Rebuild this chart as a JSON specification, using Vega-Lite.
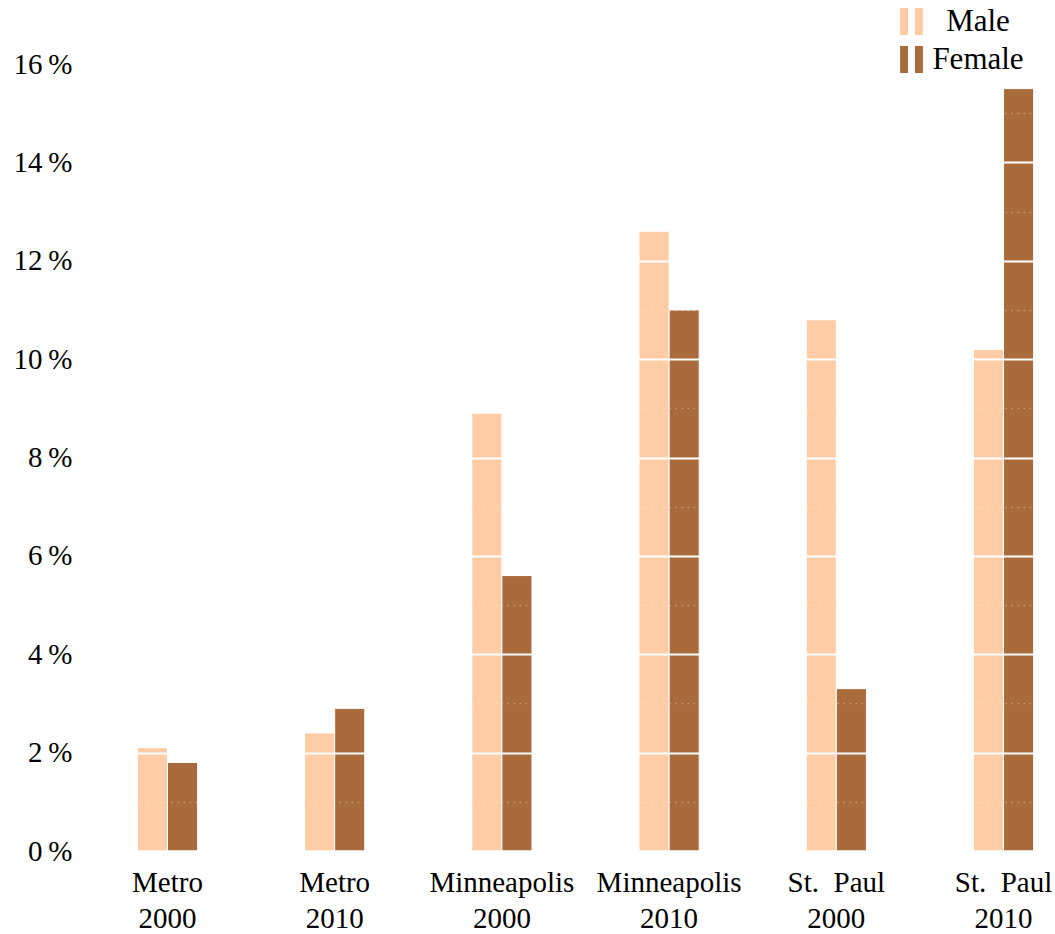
{
  "$schema": "https://vega.github.io/schema/vega-lite/v6.json",
  "autosize": "none",
  "width": 913,
  "height": 787,
  "padding": {"left": 129, "top": 64, "right": 13, "bottom": 83},
  "background": "white",
  "config": {"font": "Liberation Serif", "view": {"stroke": null}},
  "data": {"values": [
    {"group": "Metro|2000", "sex": "Male", "value": 2.1},
    {"group": "Metro|2000", "sex": "Female", "value": 1.8},
    {"group": "Metro|2010", "sex": "Male", "value": 2.4},
    {"group": "Metro|2010", "sex": "Female", "value": 2.9},
    {"group": "Minneapolis|2000", "sex": "Male", "value": 8.9},
    {"group": "Minneapolis|2000", "sex": "Female", "value": 5.6},
    {"group": "Minneapolis|2010", "sex": "Male", "value": 12.6},
    {"group": "Minneapolis|2010", "sex": "Female", "value": 11.0},
    {"group": "St.\u2002Paul|2000", "sex": "Male", "value": 10.8},
    {"group": "St.\u2002Paul|2000", "sex": "Female", "value": 3.3},
    {"group": "St.\u2002Paul|2010", "sex": "Male", "value": 10.2},
    {"group": "St.\u2002Paul|2010", "sex": "Female", "value": 15.5}
  ]},
  "mark": {"type": "bar", "stroke": "white", "strokeWidth": 1},
  "encoding": {
    "x": {
      "field": "group", "type": "nominal", "sort": null,
      "scale": {"paddingInner": 0.64, "paddingOuter": 0.05},
      "axis": {
        "title": null, "labelAngle": 0, "ticks": false, "domain": false,
        "labelFontSize": 29, "labelColor": "black", "labelPadding": 17,
        "labelLineHeight": 36,
        "labelExpr": "split(datum.label, '|')"
      }
    },
    "xOffset": {"field": "sex", "type": "nominal", "sort": ["Male", "Female"]},
    "y": {
      "field": "value", "type": "quantitative",
      "scale": {"domain": [0, 16], "nice": false},
      "axis": {
        "title": null, "ticks": false, "domain": false, "zindex": 1,
        "values": [0,1,2,3,4,5,6,7,8,9,10,11,12,13,14,15,16],
        "labelFontSize": 29, "labelColor": "black", "labelPadding": 57,
        "labelExpr": "datum.value % 2 ? '' : datum.value + '\u2009%'",
        "grid": true,
        "gridColor": "white",
        "gridWidth": {"condition": {"test": "datum.value % 2 === 1", "value": 1.5}, "value": 2},
        "gridDash": {"condition": {"test": "datum.value % 2 === 1", "value": [1.5, 4.5]}, "value": []},
        "gridOpacity": {"condition": {"test": "datum.value % 2 === 1", "value": 0.35}, "value": 1}
      }
    },
    "color": {
      "field": "sex", "type": "nominal",
      "scale": {"domain": ["Male", "Female"], "range": ["#FFCCA6", "#A96B3B"]},
      "legend": {
        "title": null, "orient": "none", "legendX": 767, "legendY": -58, "zindex": 2,
        "symbolType": "M-0.85,-1H-0.26V1H-0.85Z M0.26,-1H0.85V1H0.26Z",
        "symbolSize": 720, "symbolStrokeWidth": 0, "symbolOpacity": 1,
        "labelFontSize": 31, "labelColor": "black", "labelAlign": "center",
        "labelOffset": 51, "rowPadding": 6
      }
    }
  }
}
